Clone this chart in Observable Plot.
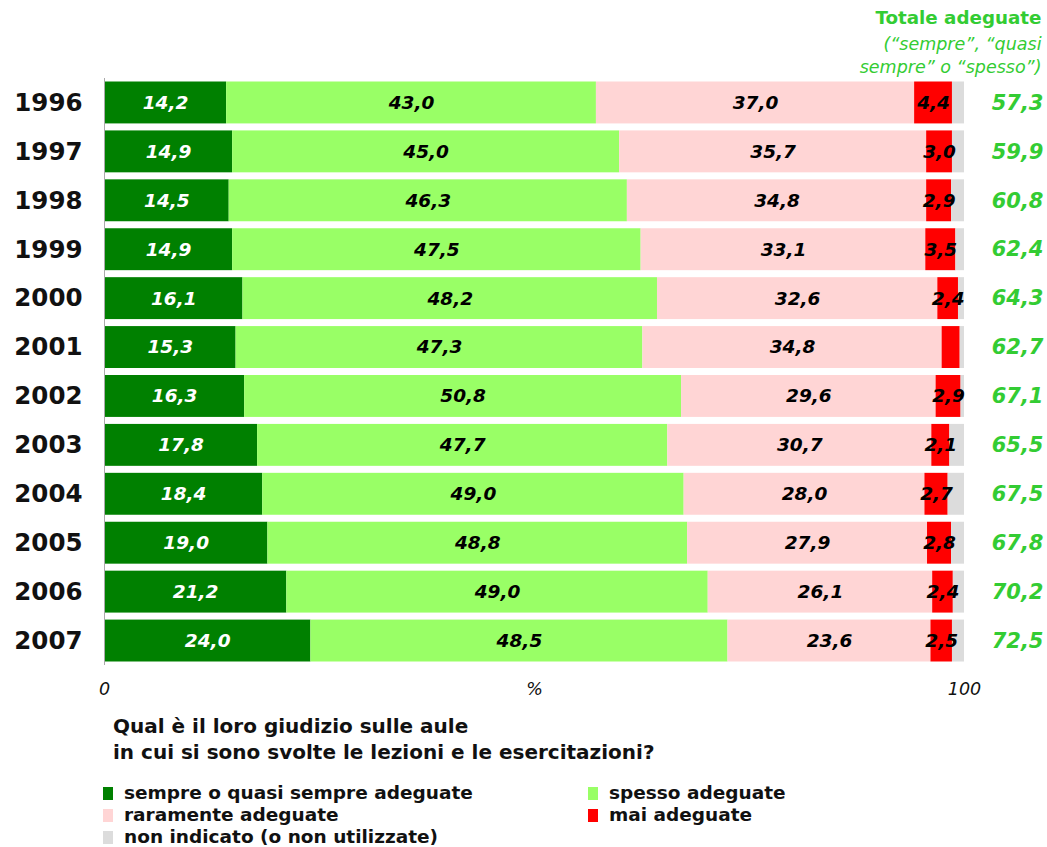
<!DOCTYPE html>
<html>
<head>
<meta charset="utf-8">
<script src="https://cdn.jsdelivr.net/npm/d3@7"></script>
<script src="https://cdn.jsdelivr.net/npm/@observablehq/plot@0.6"></script>
<style>
  html, body { margin: 0; padding: 0; background: #fff; }
  body { width: 1047px; height: 847px; overflow: hidden; font-family: "DejaVu Sans", Verdana, sans-serif; }
  #chart svg { display: block; }
  .caption { margin-left: 113px; margin-top: 13px; font-weight: bold; font-size: 20px; line-height: 26px; color: #111; }
  .legend { margin-left: 103px; margin-top: 17px; display: grid; grid-template-columns: 485px 300px; row-gap: 0; font-weight: bold; font-size: 18.5px; line-height: 22px; color: #111; }
  .legend .item { display: flex; align-items: center; }
  .legend .sw { width: 10px; height: 13px; margin-right: 11px; flex: none; }
</style>
</head>
<body>
<div id="chart"></div>
<div class="caption">Qual è il loro giudizio sulle aule<br>in cui si sono svolte le lezioni e le esercitazioni?</div>
<div class="legend" id="legend"></div>
<script>
const years = ["1996","1997","1998","1999","2000","2001","2002","2003","2004","2005","2006","2007"];
const categories = ["sempre o quasi sempre adeguate","spesso adeguate","raramente adeguate","mai adeguate","non indicato (o non utilizzate)"];
const colors = ["#008000","#99ff66","#ffd5d5","#ff0000","#dcdcdc"];
const sempre     = [14.2,14.9,14.5,14.9,16.1,15.3,16.3,17.8,18.4,19.0,21.2,24.0];
const spesso     = [43.0,45.0,46.3,47.5,48.2,47.3,50.8,47.7,49.0,48.8,49.0,48.5];
const raramente  = [37.0,35.7,34.8,33.1,32.6,34.8,29.6,30.7,28.0,27.9,26.1,23.6];
const mai        = [4.4,3.0,2.9,3.5,2.4,2.1,2.9,2.1,2.7,2.8,2.4,2.5];
const nonIndicato= [1.4,1.4,1.5,1.0,0.7,0.5,0.4,1.7,1.9,1.5,1.3,1.4];
const totals     = [57.3,59.9,60.8,62.4,64.3,62.7,67.1,65.5,67.5,67.8,70.2,72.5];
const unlabeled  = ["2001|mai adeguate"];
const axisTicks  = [{x:0,label:"0"},{x:50,label:"%"},{x:100,label:"100"}];

const series = [sempre, spesso, raramente, mai, nonIndicato];
const rows = [];
years.forEach((y, i) => {
  categories.forEach((c, k) => rows.push({year: y, cat: c, k, value: series[k][i]}));
});
const fmt = v => v.toFixed(1).replace(".", ",");
const labelFor = d => (d.k === 4 || unlabeled.includes(d.year + "|" + d.cat)) ? null : fmt(d.value);

const font = "DejaVu Sans, Verdana, sans-serif";
const green = "#33cc33";

const chart = Plot.plot({
  width: 1047,
  height: 700,
  marginLeft: 104,
  marginRight: 83,
  marginTop: 78,
  marginBottom: 35,
  style: {fontFamily: font, background: "white"},
  x: {domain: [0, 100], axis: null},
  y: {domain: years, padding: 0, round: false, axis: null},
  color: {domain: categories, range: colors},
  marks: [
    Plot.barX(rows, Plot.stackX({x: "value", y: "year", fill: "cat", insetTop: 3.5, insetBottom: 3.5})),
    Plot.ruleX([0], {stroke: "#aaa", strokeWidth: 1}),
    Plot.text(rows, Plot.stackX({x: "value", y: "year", z: "cat",
      text: d => d.k === 0 ? labelFor(d) : null,
      fill: "white", fontSize: 18.5, fontWeight: "bold", fontStyle: "italic"})),
    Plot.text(rows, Plot.stackX({x: "value", y: "year", z: "cat",
      text: d => d.k !== 0 ? labelFor(d) : null,
      fill: "black", fontSize: 18.5, fontWeight: "bold", fontStyle: "italic"})),
    Plot.axisY({tickSize: 0, tickPadding: 22, fontSize: 24.5, fontWeight: "bold", fill: "#111", label: null}),
    Plot.text(years, {y: d => d, text: (d, i) => fmt(totals[i]), frameAnchor: "right", textAnchor: "end", dx: 79,
      fill: green, fontSize: 21, fontWeight: "bold", fontStyle: "italic"}),
    Plot.text(axisTicks, {x: "x", text: "label", frameAnchor: "bottom", dy: 29, fontSize: 17.5, fontStyle: "italic", fill: "#111"}),
    Plot.text(["Totale adeguate"], {text: d => d, frameAnchor: "top-right", textAnchor: "end", lineAnchor: "top", dx: 77, dy: -68,
      fill: green, fontSize: 18.3, fontWeight: "bold"}),
    Plot.text(["(“sempre”, “quasi\nsempre” o “spesso”)"], {text: d => d, frameAnchor: "top-right", textAnchor: "end", lineAnchor: "top", dx: 77, dy: -44,
      fill: green, fontSize: 17.5, fontStyle: "italic", lineHeight: 1.28})
  ]
});
document.getElementById("chart").appendChild(chart);

const legendOrder = [0, 1, 2, 3, 4];
const lg = document.getElementById("legend");
legendOrder.forEach(k => {
  const it = document.createElement("div");
  it.className = "item";
  it.innerHTML = `<span class="sw" style="background:${colors[k]}"></span><span>${categories[k]}</span>`;
  lg.appendChild(it);
});
</script>
</body>
</html>
